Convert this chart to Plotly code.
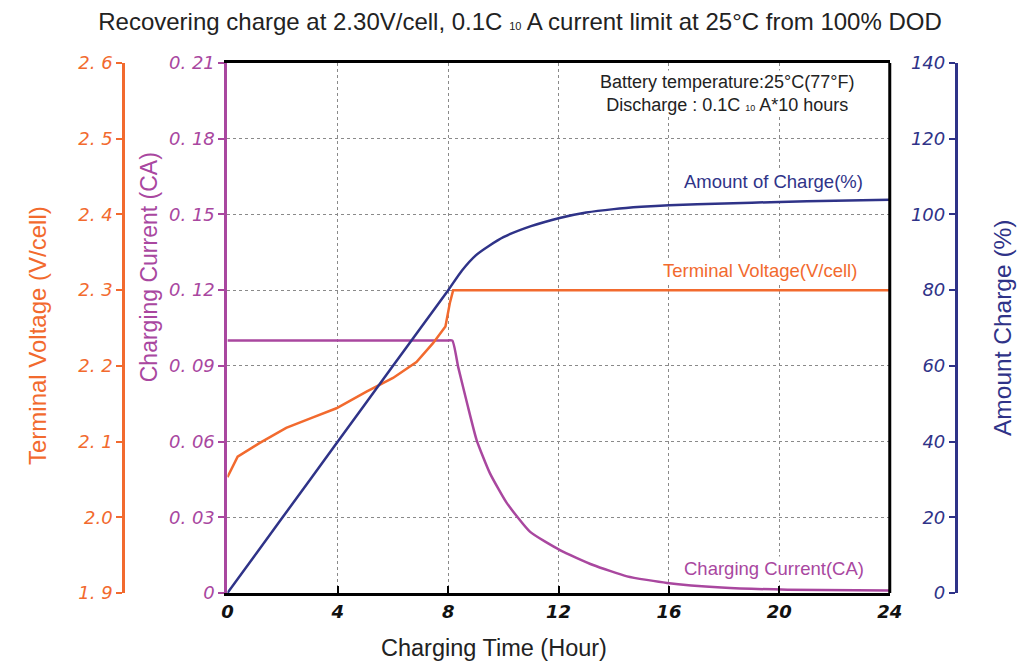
import plotly.graph_objects as go

# ---- data ----
hours_charge = [0, 2, 4, 6, 7, 8, 8.5, 9, 9.5, 10, 11, 12, 13, 14, 15, 16, 18, 20, 22, 24]
charge_pct = [0, 20, 40, 60, 70, 80, 85.2, 89.2, 91.8, 94.0, 96.9, 99.0, 100.5, 101.4, 102.0, 102.4, 102.9, 103.3, 103.6, 103.9]

hours_volt = [0, 0.37, 1.16, 2.13, 3.1, 3.95, 5.04, 6.0, 6.85, 7.45, 7.9, 8.06, 8.18, 24]
volt = [2.053, 2.080, 2.098, 2.118, 2.132, 2.144, 2.166, 2.184, 2.205, 2.230, 2.252, 2.283, 2.300, 2.300]

hours_curr = [0, 4, 7.9, 8.15, 8.36, 8.7, 9.03, 9.51, 10.12, 10.97, 12.05, 13.25, 14.48, 15.93, 17.9, 20.3, 24]
current = [0.1, 0.1, 0.1, 0.1, 0.0896, 0.0745, 0.0606, 0.0475, 0.0357, 0.0242, 0.0170, 0.0111, 0.0066, 0.0040, 0.0022, 0.0013, 0.0010]

x_ticks = [0, 4, 8, 12, 16, 20, 24]
curr_ticks = [0, 0.03, 0.06, 0.09, 0.12, 0.15, 0.18, 0.21]
curr_labels = ["0", "0. 03", "0. 06", "0. 09", "0. 12", "0. 15", "0. 18", "0. 21"]
volt_ticks = [1.9, 2.0, 2.1, 2.2, 2.3, 2.4, 2.5, 2.6]
volt_labels = ["1. 9", "2.0", "2. 1", "2. 2", "2. 3", "2. 4", "2. 5", "2. 6"]
chg_ticks = [0, 20, 40, 60, 80, 100, 120, 140]
chg_labels = ["0", "20", "40", "60", "80", "100", "120", "140"]

ORANGE = "#f26a2e"
PURPLE = "#a9479f"
NAVY = "#2f3388"

FONT = "Liberation Sans, Arial, sans-serif"
TICKFONT = "DejaVu Sans"

fig = go.Figure()
fig.add_trace(go.Scatter(x=hours_volt, y=volt, yaxis="y2", mode="lines",
                         line=dict(color=ORANGE, width=2.5), showlegend=False))
fig.add_trace(go.Scatter(x=hours_curr, y=current, yaxis="y", mode="lines",
                         line=dict(color=PURPLE, width=2.5, shape="spline", smoothing=0.5),
                         showlegend=False))
fig.add_trace(go.Scatter(x=hours_charge, y=charge_pct, yaxis="y3", mode="lines",
                         line=dict(color=NAVY, width=2.5, shape="spline", smoothing=0.6),
                         showlegend=False))

L, R = 20, 20
# effective paper width calibrated against the rendered page
W_EFF = 986
def px(v):
    return (v - L - 1) / W_EFF

PT, PB = 63, 593
H = PB - PT
def py(v):
    return (PB - v) / H

def dx(v):
    return (v - 228) / 661

GRID = "#8a8a8a"

fig.update_layout(
    width=1033, height=663, autosize=False,
    margin=dict(l=L, r=R, t=PT, b=663 - PB),
    paper_bgcolor="white", plot_bgcolor="white",
    font=dict(family=FONT),
    title=dict(
        text='Recovering charge at 2.30V/cell, 0.1C <span style="font-size:11px">10</span> A current limit at 25°C from 100% DOD',
        x=px(520), xref="paper", xanchor="center", y=1 - 22 / 663, yanchor="middle",
        font=dict(size=24, color="#222222", family=FONT)),
    xaxis=dict(domain=[px(228), px(889)], range=[0, 24], tickvals=x_ticks,
               ticktext=[str(v) for v in x_ticks],
               tickfont=dict(size=18, color="#111111", style="italic", weight="bold", family=TICKFONT),
               ticks="inside", ticklen=7, tickwidth=2, tickcolor="black",
               showline=True, linecolor="black", linewidth=3, mirror=True,
               showgrid=True, gridcolor=GRID, griddash="3px,3px", gridwidth=1,
               zeroline=False),
    yaxis=dict(range=[0, 0.21], tickvals=curr_ticks, ticktext=curr_labels,
               tickfont=dict(size=18, color=PURPLE, style="italic", family=TICKFONT),
               ticks="outside", ticklen=6, tickwidth=2, tickcolor=PURPLE,
               showline=True, linecolor=PURPLE, linewidth=3,
               showgrid=True, gridcolor=GRID, griddash="3px,3px", gridwidth=1,
               zeroline=False, side="left"),
    yaxis2=dict(range=[1.9, 2.6], tickvals=volt_ticks, ticktext=volt_labels,
                tickfont=dict(size=18, color=ORANGE, style="italic", family=TICKFONT),
                ticks="outside", ticklen=6, tickwidth=2, tickcolor=ORANGE,
                showline=True, linecolor=ORANGE, linewidth=3,
                showgrid=False, zeroline=False,
                overlaying="y", anchor="free", position=px(124), side="left"),
    yaxis3=dict(range=[0, 140], tickvals=chg_ticks, ticktext=chg_labels,
                tickfont=dict(size=18, color=NAVY, style="italic", family=TICKFONT),
                ticks="outside", ticklen=6, tickwidth=2, tickcolor=NAVY,
                showline=True, linecolor=NAVY, linewidth=3,
                showgrid=False, zeroline=False,
                overlaying="y", anchor="free", position=px(955), side="left"),
)

# right border of plot area
fig.add_shape(type="line", xref="x domain", yref="y domain", x0=1, x1=1, y0=0, y1=1,
              line=dict(color="black", width=3))

# axis titles
fig.add_annotation(text="Terminal Voltage (V/cell)", textangle=-90, xref="paper", yref="paper",
                   x=px(38), y=py(336), xanchor="center", yanchor="middle", showarrow=False,
                   font=dict(size=24, color=ORANGE))
fig.add_annotation(text="Charging Current (CA)", textangle=-90, xref="paper", yref="paper",
                   x=px(150), y=py(267), xanchor="center", yanchor="middle", showarrow=False,
                   font=dict(size=23, color=PURPLE))
fig.add_annotation(text="Amount Charge (%)", textangle=-90, xref="paper", yref="paper",
                   x=px(1001), y=py(327), xanchor="center", yanchor="middle", showarrow=False,
                   font=dict(size=24.5, color=NAVY))
fig.add_annotation(text="Charging Time (Hour)", xref="x domain", yref="paper",
                   x=dx(494), y=py(648), xanchor="center", yanchor="middle", showarrow=False,
                   font=dict(size=23.5, color="#222222"))

# curve labels and info text
LAB = 18.5
fig.add_annotation(text="Amount of Charge(%)", x=dx(773), y=py(182), xref="x domain", yref="y domain",
                   xanchor="center", yanchor="middle",
                   showarrow=False, font=dict(size=LAB, color=NAVY), bgcolor="white")
fig.add_annotation(text="Terminal Voltage(V/cell)", x=dx(760), y=py(270), xref="x domain", yref="y domain",
                   xanchor="center", yanchor="middle",
                   showarrow=False, font=dict(size=LAB, color=ORANGE), bgcolor="white")
fig.add_annotation(text="Charging Current(CA)", x=dx(773), y=py(568), xref="x domain", yref="y domain",
                   xanchor="center", yanchor="middle",
                   showarrow=False, font=dict(size=LAB, color=PURPLE), bgcolor="white")
fig.add_annotation(text='Battery temperature:25°C(77°F)<br>Discharge : 0.1C <span style="font-size:9px">10</span> A*10 hours',
                   x=dx(727), y=py(93), xref="x domain", yref="y domain", showarrow=False,
                   xanchor="center", yanchor="middle",
                   font=dict(size=18, color="#222222"), bgcolor="white", align="center")

fig.write_html("out.html", config={"displayModeBar": False, "responsive": False},
               post_script="document.body.style.margin='0';document.body.style.overflow='hidden';")
